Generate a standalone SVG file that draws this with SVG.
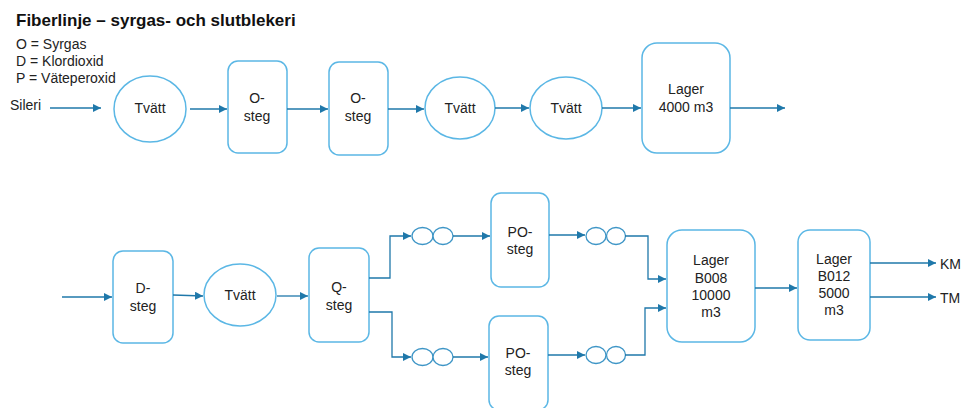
<svg xmlns="http://www.w3.org/2000/svg" width="976" height="408" viewBox="0 0 976 408">
  <defs>
    <marker id="arr" viewBox="0 0 10 10" refX="10" refY="5" markerWidth="8" markerHeight="8" markerUnits="userSpaceOnUse" orient="auto">
      <path d="M0,0 L10,5 L0,10 Z" fill="#1f78aa"/>
    </marker>
    <style>
      .node { fill: #ffffff; stroke: #5bb7e5; stroke-width: 1.5; }
      .pipe { fill: #ffffff; stroke: #3d95c6; stroke-width: 1.3; }
      .lbl { font-family: "Liberation Sans", Arial, sans-serif; font-size: 14px; fill: #222222; text-anchor: middle; }
      .txt { font-family: "Liberation Sans", Arial, sans-serif; font-size: 14px; fill: #222222; }
      .title { font-family: "Liberation Sans", Arial, sans-serif; font-size: 17px; font-weight: bold; fill: #111111; }
      .link { fill: none; stroke: #1f78aa; stroke-width: 1.3; marker-end: url(#arr); }
    </style>
  </defs>
  <rect width="976" height="408" fill="#ffffff"/>

  <!-- Heading and legend -->
  <text class="title" x="16" y="26">Fiberlinje – syrgas- och slutblekeri</text>
  <text class="txt" x="16" y="49">O = Syrgas</text>
  <text class="txt" x="16" y="66">D = Klordioxid</text>
  <text class="txt" x="16" y="83">P = Väteperoxid</text>
  <text class="txt" x="10" y="110">Sileri</text>

  <!-- Upper line: oxygen stage -->
  <g id="tvatt1"><ellipse class="node" cx="150" cy="109" rx="36" ry="33"/><text class="lbl" x="150" y="113">Tvätt</text></g>
  <g id="osteg1"><rect class="node" x="228" y="61" width="59" height="92" rx="10"/><text class="lbl" x="257" y="103">O-</text><text class="lbl" x="257" y="121">steg</text></g>
  <g id="osteg2"><rect class="node" x="329" y="62" width="59" height="93" rx="10"/><text class="lbl" x="358" y="103">O-</text><text class="lbl" x="358" y="121">steg</text></g>
  <g id="tvatt2"><ellipse class="node" cx="460" cy="108" rx="35" ry="31"/><text class="lbl" x="460" y="113">Tvätt</text></g>
  <g id="tvatt3"><ellipse class="node" cx="566" cy="108" rx="36" ry="31"/><text class="lbl" x="566" y="113">Tvätt</text></g>
  <g id="lager4000"><rect class="node" x="642" y="43" width="88" height="110" rx="15"/><text class="lbl" x="686" y="94">Lager</text><text class="lbl" x="686" y="112">4000 m3</text></g>

  <!-- Lower line: final bleaching -->
  <g id="dsteg"><rect class="node" x="113" y="251" width="60" height="92" rx="10"/><text class="lbl" x="143" y="293">D-</text><text class="lbl" x="143" y="311">steg</text></g>
  <g id="tvatt4"><ellipse class="node" cx="240" cy="295" rx="36" ry="31"/><text class="lbl" x="240" y="300">Tvätt</text></g>
  <g id="qsteg"><rect class="node" x="309" y="248" width="60" height="94" rx="10"/><text class="lbl" x="339" y="292">Q-</text><text class="lbl" x="339" y="310">steg</text></g>
  <g id="pipeA1"><ellipse class="pipe" cx="422.5" cy="236" rx="10.5" ry="8.5"/><ellipse class="pipe" cx="443" cy="236" rx="10" ry="8.5"/></g>
  <g id="pipeB1"><ellipse class="pipe" cx="422.5" cy="357" rx="10.5" ry="8.5"/><ellipse class="pipe" cx="443" cy="357" rx="10" ry="8.5"/></g>
  <g id="posteg1"><rect class="node" x="491" y="193" width="58" height="94" rx="10"/><text class="lbl" x="520" y="237">PO-</text><text class="lbl" x="520" y="254">steg</text></g>
  <g id="posteg2"><rect class="node" x="489" y="316" width="59" height="94" rx="10"/><text class="lbl" x="518" y="358">PO-</text><text class="lbl" x="518" y="375">steg</text></g>
  <g id="pipeA2"><ellipse class="pipe" cx="596" cy="236" rx="10" ry="8.5"/><ellipse class="pipe" cx="616" cy="236" rx="9.5" ry="8.5"/></g>
  <g id="pipeB2"><ellipse class="pipe" cx="596" cy="355" rx="10" ry="8.5"/><ellipse class="pipe" cx="616" cy="355" rx="9.5" ry="8.5"/></g>
  <g id="lagerB008"><rect class="node" x="667" y="230" width="88" height="112" rx="15"/><text class="lbl" x="711" y="265">Lager</text><text class="lbl" x="711" y="283">B008</text><text class="lbl" x="711" y="300">10000</text><text class="lbl" x="711" y="317">m3</text></g>
  <g id="lagerB012"><rect class="node" x="798" y="230" width="72" height="110" rx="12"/><text class="lbl" x="834" y="264">Lager</text><text class="lbl" x="834" y="281">B012</text><text class="lbl" x="834" y="298">5000</text><text class="lbl" x="834" y="315">m3</text></g>
  <text class="txt" x="940" y="269">KM</text>
  <text class="txt" x="940" y="303">TM</text>

  <!-- Connectors -->
  <g id="connectors">
    <path class="link" d="M50,108 H101"/>
    <path class="link" d="M190,109 H227"/>
    <path class="link" d="M287,109 H328"/>
    <path class="link" d="M388,109 H424"/>
    <path class="link" d="M495,108 H529"/>
    <path class="link" d="M602,108 H641"/>
    <path class="link" d="M730,108 H785"/>

    <path class="link" d="M62,297 H112"/>
    <path class="link" d="M173,295 L203,296"/>
    <path class="link" d="M277,296 H308"/>
    <path class="link" d="M369,278 H390 V236 H411"/>
    <path class="link" d="M369,312 H392 V357 H411"/>
    <path class="link" d="M453,236 H490"/>
    <path class="link" d="M453,357 H488"/>
    <path class="link" d="M549,235 H585"/>
    <path class="link" d="M548,355 H585"/>
    <path class="link" d="M625,236 H648 V279 H666"/>
    <path class="link" d="M625,355 H645 V308 H666"/>
    <path class="link" d="M755,288 H797"/>
    <path class="link" d="M870,263 H936"/>
    <path class="link" d="M870,297 H936"/>
  </g>
</svg>
